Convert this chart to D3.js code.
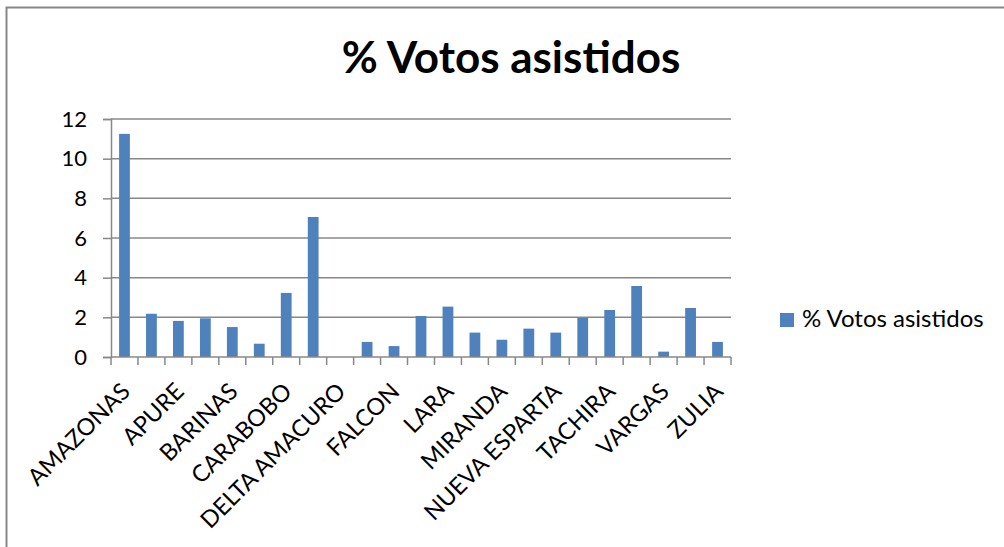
<!DOCTYPE html>
<html>
<head>
  <meta charset="utf-8">
  <title>% Votos asistidos</title>
  <script src="https://d3js.org/d3.v7.min.js"></script>
  <style>
    body { margin: 0; background: #fff; }
    text { font-family: Lato, 'Open Sans', sans-serif; fill: #000; }
  </style>
</head>
<body>
  <script>
    // values
    const estados = [
      "AMAZONAS", "ANZOATEGUI", "APURE", "ARAGUA", "BARINAS", "BOLIVAR",
      "CARABOBO", "COJEDES", "DELTA AMACURO", "DTTO. CAPITAL", "FALCON",
      "GUARICO", "LARA", "MERIDA", "MIRANDA", "MONAGAS", "NUEVA ESPARTA",
      "PORTUGUESA", "TACHIRA", "TRUJILLO", "VARGAS", "YARACUY", "ZULIA"
    ];
    const votosAsistidos = [
      11.25, 2.18, 1.82, 1.95, 1.51, 0.67, 3.23, 7.06, 0, 0.76, 0.55,
      2.07, 2.54, 1.23, 0.87, 1.43, 1.23, 1.97, 2.37, 3.58, 0.27, 2.47, 0.76
    ];
    const yTicks = [0, 2, 4, 6, 8, 10, 12];
    const seriesName = "% Votos asistidos";

    const width = 1004, height = 547;
    const margin = { top: 119, left: 111, right: 273, bottom: 190 };
    const blue = "#4f81bd";
    const grid = "#888";

    const svg = d3.select("body").append("svg")
      .attr("width", width)
      .attr("height", height);

    // chart area border (runs off the right and bottom edge)
    svg.append("rect")
      .attr("x", 6.5).attr("y", 7.5)
      .attr("width", width).attr("height", height)
      .attr("fill", "none").attr("stroke", "#878787").attr("stroke-width", 2);

    const x = d3.scaleBand()
      .domain(estados)
      .range([margin.left, width - margin.right])
      .paddingInner(0.6).paddingOuter(0.3);

    const y = d3.scaleLinear()
      .domain([0, 12])
      .range([height - margin.bottom, margin.top]);

    // title
    svg.append("text")
      .attr("x", 511).attr("y", 73)
      .attr("text-anchor", "middle")
      .style("font-size", "44px").style("font-weight", "bold")
      .text(seriesName);

    // gridlines
    svg.append("g").selectAll("line")
      .data(yTicks.filter(d => d > 0))
      .join("line")
      .attr("x1", margin.left).attr("x2", width - margin.right)
      .attr("y1", d => y(d)).attr("y2", d => y(d))
      .attr("stroke", grid).attr("stroke-width", 1.5);

    // y axis
    const yAxis = svg.append("g")
      .attr("transform", `translate(${margin.left},0)`)
      .call(d3.axisLeft(y).tickValues(yTicks).tickSize(8).tickPadding(16));
    yAxis.select(".domain").attr("stroke", grid).attr("stroke-width", 1.5);
    yAxis.selectAll(".tick line").attr("stroke", grid).attr("stroke-width", 1.5);
    yAxis.selectAll("text").style("font-size", "22px").style("font-family", "Lato");

    // bars
    svg.append("g").selectAll("rect")
      .data(votosAsistidos)
      .join("rect")
      .attr("x", (d, i) => x(estados[i]))
      .attr("width", x.bandwidth())
      .attr("y", d => y(d))
      .attr("height", d => y(0) - y(d))
      .attr("fill", blue);

    // x axis: tick marks between categories
    const step = x.step();
    const x0 = margin.left;
    const xg = svg.append("g");
    xg.append("line")
      .attr("x1", x0).attr("x2", width - margin.right)
      .attr("y1", y(0)).attr("y2", y(0))
      .attr("stroke", grid).attr("stroke-width", 1.5);
    xg.selectAll("line.tk")
      .data(d3.range(estados.length + 1))
      .join("line")
      .attr("class", "tk")
      .attr("x1", i => x0 + i * step).attr("x2", i => x0 + i * step)
      .attr("y1", y(0)).attr("y2", y(0) + 8)
      .attr("stroke", grid).attr("stroke-width", 1.5);

    // every second category label, rotated
    xg.selectAll("text")
      .data(estados.filter((d, i) => i % 2 === 0))
      .join("text")
      .attr("transform", d => `translate(${x(d) + x.bandwidth() / 2 + 7},${y(0) + 36}) rotate(-45)`)
      .attr("text-anchor", "end")
      .style("font-size", "23.5px")
      .text(d => d);

    // legend
    const lg = svg.append("g").attr("transform", "translate(780,313)");
    lg.append("rect").attr("width", 14).attr("height", 14).attr("fill", blue);
    lg.append("text").attr("x", 22).attr("y", 14)
      .style("font-size", "24px")
      .text(seriesName);
  </script>
</body>
</html>
